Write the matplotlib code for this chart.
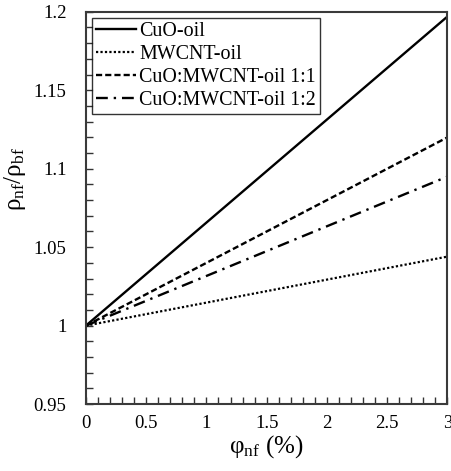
import matplotlib
matplotlib.use("Agg")
import matplotlib.pyplot as plt
from matplotlib.ticker import MultipleLocator, FormatStrFormatter

plt.rcParams['font.family'] = 'serif'
plt.rcParams['font.serif'] = ['Liberation Serif', 'DejaVu Serif']
plt.rcParams['mathtext.fontset'] = 'custom'
plt.rcParams['mathtext.rm'] = 'Liberation Serif'
plt.rcParams['mathtext.it'] = 'Liberation Serif:italic'

# volume fraction (%) and density ratio of each nanofluid
phi = [0, 3]
cuo = [1.0, 1.197]
mwcnt = [1.0, 1.044]
hybrid_11 = [1.0, 1.120]
hybrid_12 = [1.0, 1.095]

fig = plt.figure(figsize=(4.52, 4.71), dpi=100)
ax = fig.add_axes([0.190, 0.142, 0.800, 0.833])

ax.plot(phi, cuo, color='black', lw=1.7, ls='-', label='CuO-oil')
ax.plot(phi, mwcnt, color='black', lw=1.6, ls=(0, (1, 1)), label='MWCNT-oil')
ax.plot(phi, hybrid_11, color='black', lw=1.7, ls=(0, (2.6, 1.3)), label='CuO:MWCNT-oil 1:1')
ax.plot(phi, hybrid_12, color='black', lw=1.7, ls=(0, (5, 2.5, 1, 2.5)), label='CuO:MWCNT-oil 1:2')

ax.set_xlim(0, 3)
ax.set_ylim(0.95, 1.2)
ax.xaxis.set_major_locator(MultipleLocator(0.5))
ax.xaxis.set_minor_locator(MultipleLocator(0.1))
ax.yaxis.set_major_locator(MultipleLocator(0.05))
ax.yaxis.set_minor_locator(MultipleLocator(0.01))
ax.xaxis.set_major_formatter(FormatStrFormatter('%g'))
ax.yaxis.set_major_formatter(FormatStrFormatter('%g'))

ax.tick_params(which='both', direction='in', length=5, width=1, color='#333333',
               labelsize=13.5)
ax.tick_params(axis='y', which='both', pad=14)
ax.tick_params(axis='x', which='both', pad=8)

for sp in ax.spines.values():
    sp.set_linewidth(1.5)
    sp.set_color('#3a3a3a')

ax.set_xlabel('φ$_{\\mathrm{nf}}$ (%)', fontsize=18, labelpad=1)
ax.set_ylabel('ρ$_{\\mathrm{nf}}$/ρ$_{\\mathrm{bf}}$', fontsize=18)
ax.yaxis.set_label_coords(-0.16, 0.574)

leg = ax.legend(loc='upper left', fontsize=14.4, frameon=True, fancybox=False,
                handlelength=2.0, handletextpad=0.15, borderpad=0.2,
                labelspacing=0.2, borderaxespad=0.33)
leg.get_frame().set_edgecolor('black')
leg.get_frame().set_linewidth(1.0)

fig.savefig('out.png', dpi=100)
